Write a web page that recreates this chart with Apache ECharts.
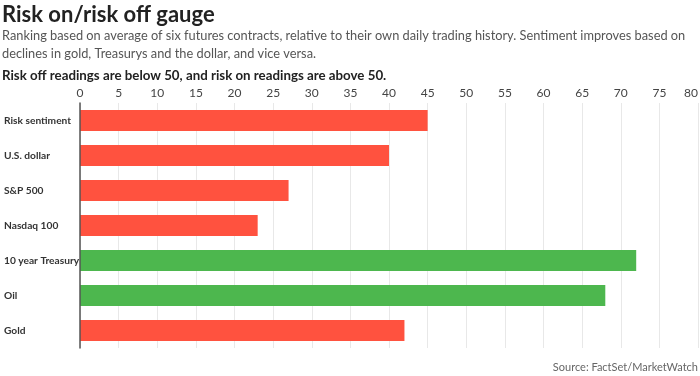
<!DOCTYPE html>
<html>
<head>
<meta charset="utf-8">
<script src="https://cdn.jsdelivr.net/npm/echarts@6/dist/echarts.min.js"></script>
<style>
  html, body { margin: 0; padding: 0; background: #fff; }
  #chart { width: 700px; height: 376px; }
</style>
</head>
<body>
<div id="chart"></div>
<script>
  // data
  var categories = ['Risk sentiment', 'U.S. dollar', 'S&P 500', 'Nasdaq 100', '10 year Treasury', 'Oil', 'Gold']
  var readings = [45, 40, 27, 23, 72, 68, 42]
  var xTicks = { min: 0, max: 80, interval: 5 }

  var RED = '#ff523f'
  var GREEN = '#4db74e'

  var chart = echarts.init(document.getElementById('chart'))
  var option = {
    animation: false,
    title: [{
      text: 'Risk on/risk off gauge',
      left: 2,
      top: 4,
      padding: 0,
      textStyle: { fontFamily: 'Lato', fontSize: 22, fontWeight: 'bold', color: '#222' }
    }, {
      text: 'Ranking based on average of six futures contracts, relative to their own daily trading history. Sentiment improves based on\ndeclines in gold, Treasurys and the dollar, and vice versa.',
      left: 2,
      top: 27,
      padding: 0,
      textStyle: { fontFamily: 'Lato', fontSize: 12.8, fontWeight: 'normal', color: '#555', lineHeight: 18 }
    }, {
      text: 'Risk off readings are below 50, and risk on readings are above 50.',
      left: 2,
      top: 69,
      padding: 0,
      textStyle: { fontFamily: 'Lato', fontSize: 13.3, fontWeight: 'bold', color: '#222' }
    }, {
      text: 'Source: FactSet/MarketWatch',
      right: 2,
      top: 362,
      padding: 0,
      textStyle: { fontFamily: 'Lato', fontSize: 11, fontWeight: 'normal', color: '#666' }
    }],
    grid: { left: 80, right: 2, top: 103, height: 245, outerBoundsMode: 'none', containLabel: false },
    xAxis: {
      type: 'value',
      position: 'top',
      min: xTicks.min,
      max: xTicks.max,
      interval: xTicks.interval,
      axisLine: { show: false },
      axisTick: { show: false },
      axisLabel: { fontFamily: 'Lato', fontSize: 12, color: '#444', margin: 4, alignMaxLabel: 'right' },
      splitLine: { lineStyle: { color: '#e8e8e8', width: 1 } }
    },
    yAxis: {
      type: 'category',
      inverse: true,
      data: categories,
      z: 5,
      axisLine: { lineStyle: { color: '#555', width: 1.5 } },
      axisTick: { show: false },
      axisLabel: {
        align: 'left',
        margin: 76,
        overflow: 'none',
        width: 120,
        fontFamily: 'Lato',
        fontSize: 10.2,
        fontWeight: 'bold',
        color: '#333'
      }
    },
    series: [{
      type: 'bar',
      barCategoryGap: '40%',
      data: readings.map(function (v) {
        return { value: v, itemStyle: { color: v > 50 ? GREEN : RED } }
      })
    }]
  }
  chart.setOption(option)
</script>
</body>
</html>
